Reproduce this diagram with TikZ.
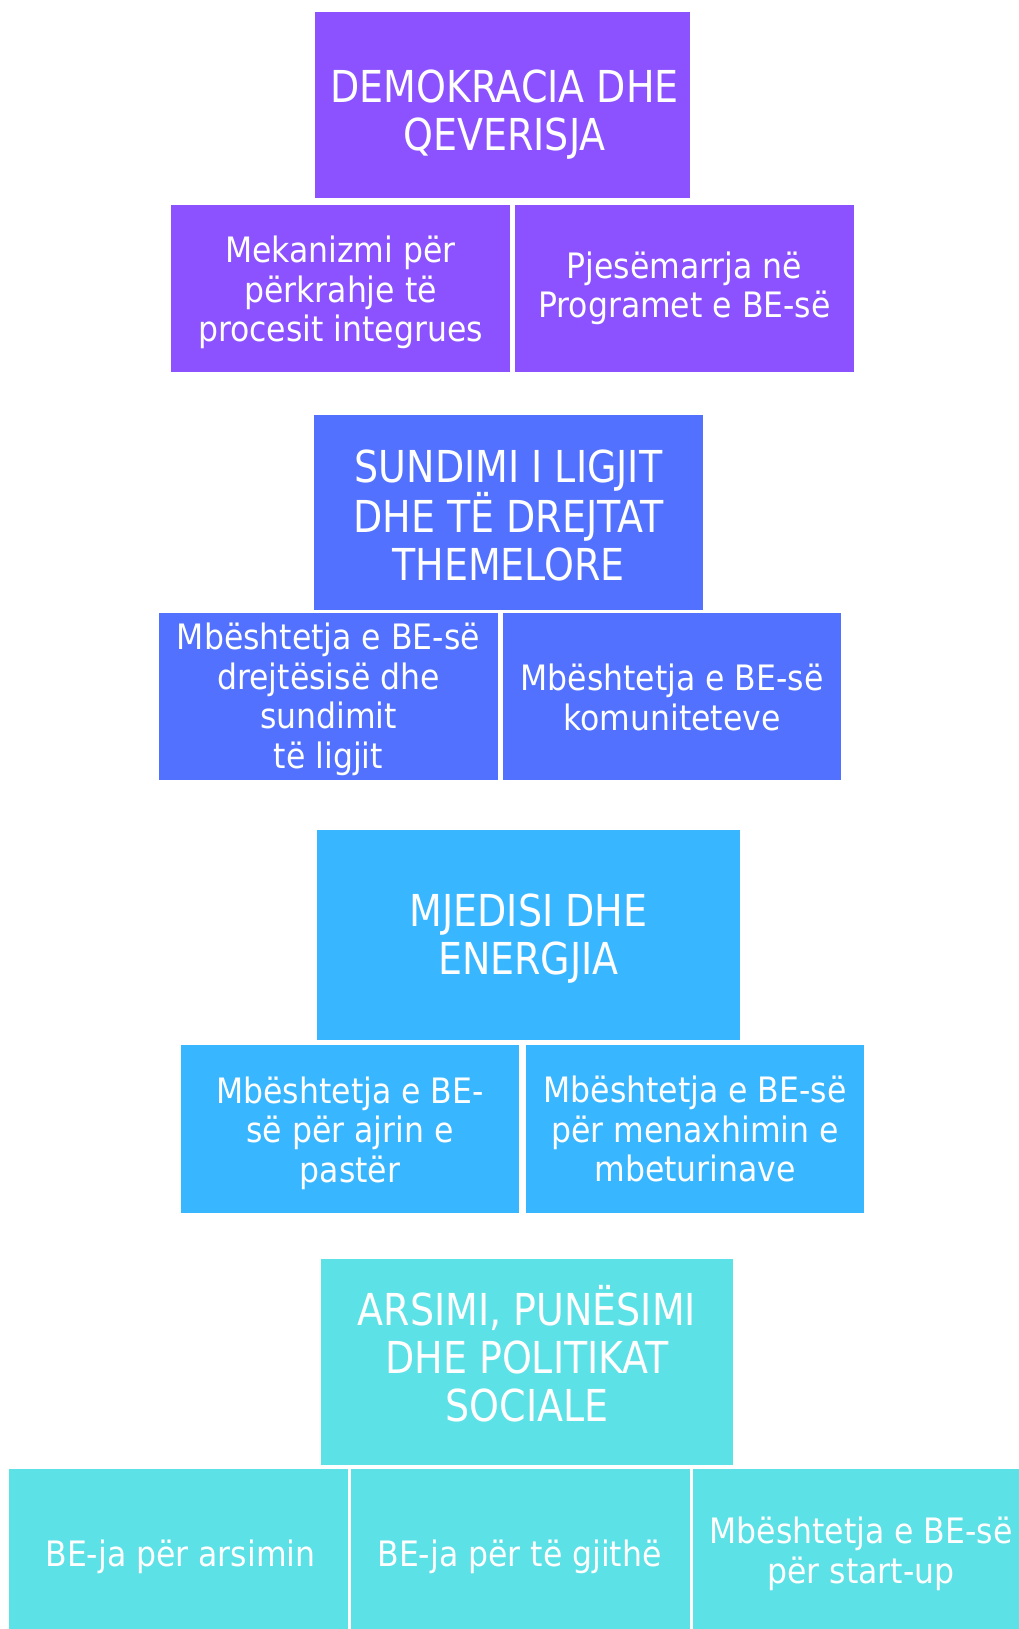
\documentclass[tikz,border=0pt]{standalone}
\usepackage{fontspec}
\setmainfont{DejaVu Sans Condensed}
\newfontfamily\titlefont[FakeStretch=0.96]{DejaVu Sans Condensed}
\definecolor{cPurple}{HTML}{8C52FF}
\definecolor{cBlue}{HTML}{5271FF}
\definecolor{cSky}{HTML}{38B6FF}
\definecolor{cCyan}{HTML}{5CE1E6}
\tikzset{
  boxbase/.style={rectangle, inner sep=0pt, outer sep=0pt, draw=none},
  textbase/.style={inner sep=0pt, outer sep=0pt, text=white, align=center},
  titletext/.style={textbase, font=\titlefont\fontsize{44}{48}\selectfont},
  subtext/.style={textbase, font=\fontsize{35}{39.5}\selectfont},
}
\begin{document}
\begin{tikzpicture}[x=1pt,y=-1pt]
\useasboundingbox[fill=white] (0,0) rectangle (1019,1629);
% Group 1
\node[boxbase, fill=cPurple, minimum width=375pt, minimum height=186pt] (t1) at (502.5,105) {};
\node[titletext] (t1l) at ([shift={(2pt,-10pt)}]t1.center) {DEMOKRACIA DHE\\QEVERISJA};
\node[boxbase, fill=cPurple, minimum width=339pt, minimum height=167pt] (s1) at (340.5,288.5) {};
\node[subtext] (s1l) at ([yshift=-4pt]s1.center) {Mekanizmi për\\përkrahje të\\procesit integrues};
\node[boxbase, fill=cPurple, minimum width=339pt, minimum height=167pt] (s2) at (684.5,288.5) {};
\node[subtext] (s2l) at ([yshift=0pt]s2.center) {Pjesëmarrja në\\Programet e BE-së};
% Group 2
\node[boxbase, fill=cBlue, minimum width=389pt, minimum height=195pt] (t2) at (508.5,512.5) {};
\node[titletext] (t2l) at ([yshift=-3pt]t2.center) {SUNDIMI I LIGJIT\\DHE TË DREJTAT\\THEMELORE};
\node[boxbase, fill=cBlue, minimum width=339pt, minimum height=167pt] (s3) at (328.5,696.5) {};
\node[subtext] (s3l) at ([yshift=-3pt]s3.center) {Mbështetja e BE-së\\drejtësisë dhe\\sundimit\\të ligjit};
\node[boxbase, fill=cBlue, minimum width=338pt, minimum height=167pt] (s4) at (672,696.5) {};
\node[subtext] (s4l) at ([yshift=-1pt]s4.center) {Mbështetja e BE-së\\komuniteteve};
% Group 3
\node[boxbase, fill=cSky, minimum width=423pt, minimum height=210pt] (t3) at (528.5,935) {};
\node[titletext] (t3l) at ([yshift=-4pt]t3.center) {MJEDISI DHE\\ENERGJIA};
\node[boxbase, fill=cSky, minimum width=338pt, minimum height=168pt] (s5) at (350,1129) {};
\node[subtext] (s5l) at ([yshift=-4pt]s5.center) {Mbështetja e BE-\\së për ajrin e\\pastër};
\node[boxbase, fill=cSky, minimum width=338pt, minimum height=168pt] (s6) at (695,1129) {};
\node[subtext] (s6l) at ([yshift=0pt]s6.center) {Mbështetja e BE-së\\për menaxhimin e\\mbeturinave};
% Group 4
\node[boxbase, fill=cCyan, minimum width=412pt, minimum height=206pt] (t4) at (527,1362) {};
\node[titletext] (t4l) at ([yshift=8pt]t4.center) {ARSIMI, PUNËSIMI\\DHE POLITIKAT\\SOCIALE};
\node[boxbase, fill=cCyan, minimum width=339pt, minimum height=160pt] (s7) at (178.5,1549) {};
\node[subtext] (s7l) at ([shift={(2pt,-8pt)}]s7.center) {BE-ja për arsimin};
\node[boxbase, fill=cCyan, minimum width=339pt, minimum height=160pt] (s8) at (520.5,1549) {};
\node[subtext] (s8l) at ([shift={(-1pt,-8pt)}]s8.center) {BE-ja për të gjithë};
\node[boxbase, fill=cCyan, minimum width=326pt, minimum height=160pt] (s9) at (856,1549) {};
\node[subtext] (s9l) at ([shift={(5pt,-5pt)}]s9.center) {Mbështetja e BE-së\\për start-up};
\end{tikzpicture}
\end{document}
